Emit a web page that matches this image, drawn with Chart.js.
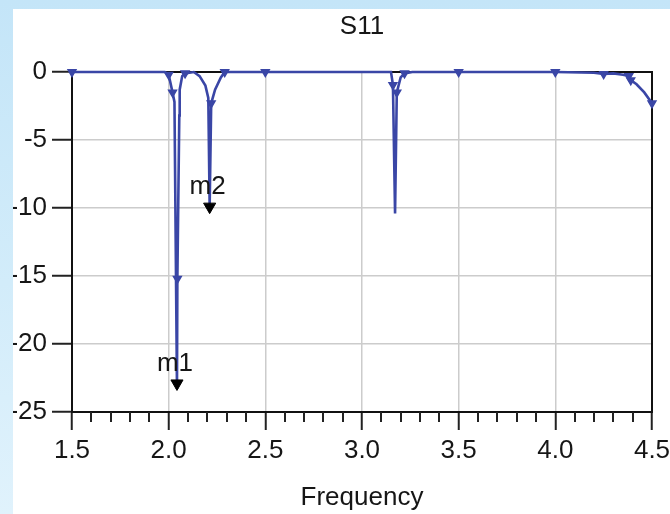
<!DOCTYPE html>
<html>
<head>
<meta charset="utf-8">
<script src="https://cdn.jsdelivr.net/npm/chart.js@4/dist/chart.umd.min.js"></script>
<style>
    html, body { margin: 0; padding: 0; }
    body {
        width: 670px; height: 514px; overflow: hidden; position: relative;
        background: linear-gradient(to bottom, #c4e5f8 0%, #d2ecfa 55%, #e0f2fc 100%);
    }
    #panel { position: absolute; left: 13px; top: 9px; width: 657px; height: 505px; background: #fff; overflow: hidden; }
    canvas { display: block; }
</style>
</head>
<body>
<div id="panel"><canvas id="chartS11" width="657" height="505"></canvas></div>
<script>
// S11 trace (GHz, dB)
const freq = [1.5, 1.98, 2.0, 2.02, 2.03, 2.043, 2.045, 2.055, 2.057, 2.07, 2.085, 2.13, 2.16, 2.19, 2.205, 2.212, 2.22, 2.24, 2.27, 2.29,
    2.5, 3.0, 3.15, 3.16, 3.171, 3.18, 3.2, 3.22, 3.26, 3.5, 4.0, 4.2, 4.25, 4.3, 4.35, 4.38, 4.39, 4.42, 4.46, 4.5];
const s11 = [0, 0, -0.2, -1.5, -2.2, -23.3, -15.2, -3.2, -1.3, -0.3, -0.1, 0, -0.3, -1.0, -1.9, -9.9, -2.3, -1.3, -0.4, 0,
    0, 0, 0, -0.95, -10.4, -1.5, -0.4, -0.1, 0, 0, 0, -0.05, -0.15, -0.1, -0.2, -0.3, -0.6, -0.9, -1.5, -2.3];

// simulation sample points shown as small symbols
const sampleFreq = [1.5, 2.0, 2.02, 2.045, 2.085, 2.22, 2.29, 2.5, 3.16, 3.18, 3.22, 3.5, 4.0, 4.25, 4.38, 4.39, 4.5];
const sampleS11 = [0, -0.2, -1.5, -15.2, -0.1, -2.3, 0, 0, -0.95, -1.5, -0.1, 0, 0, -0.15, -0.3, -0.6, -2.3];

// markers
const markerNames = ['m1', 'm2'];
const markerFreq = [2.043, 2.212];
const markerS11 = [-22.9, -9.9];

const xTicks = [1.5, 2.0, 2.5, 3.0, 3.5, 4.0, 4.5];
const yTicks = [0, -5, -10, -15, -20, -25];

const traceColor = '#3a46a6';
const textColor = '#161616';
const fontFamily = "'Liberation Sans', Arial, sans-serif";
const font = { family: fontFamily, size: 26 };

const pairs = (xs, ys) => xs.map((x, i) => ({ x: x, y: ys[i] }));

// black frame round the plot area (top and right sides are not axes)
const framePlugin = {
    id: 'frame',
    beforeDatasetsDraw(chart) {
        const a = chart.chartArea, ctx = chart.ctx;
        ctx.save();
        ctx.strokeStyle = '#111';
        ctx.lineWidth = 2;
        ctx.strokeRect(a.left, a.top, a.right - a.left, a.bottom - a.top);
        ctx.restore();
    }
};

// minor ticks every 0.1 on the frequency axis
const minorTicksPlugin = {
    id: 'minorTicks',
    afterDraw(chart) {
        const xs = chart.scales.x, ctx = chart.ctx;
        const y0 = chart.chartArea.bottom;
        ctx.save();
        ctx.strokeStyle = '#222';
        ctx.lineWidth = 2;
        for (let i = 15; i <= 45; i++) {
            if (i % 5 === 0) continue;
            const px = Math.round(xs.getPixelForValue(i / 10));
            ctx.beginPath();
            ctx.moveTo(px, y0);
            ctx.lineTo(px, y0 + 10);
            ctx.stroke();
        }
        ctx.restore();
    }
};

// "m1" / "m2" text above the marker symbols
const markerLabelPlugin = {
    id: 'markerLabels',
    afterDatasetsDraw(chart) {
        const ctx = chart.ctx;
        const xs = chart.scales.x, ys = chart.scales.y;
        ctx.save();
        ctx.font = `26px ${fontFamily}`;
        ctx.fillStyle = textColor;
        ctx.textAlign = 'center';
        ctx.textBaseline = 'middle';
        markerNames.forEach((name, i) => {
            ctx.fillText(name, xs.getPixelForValue(markerFreq[i]) - 2, ys.getPixelForValue(markerS11[i]) - 20);
        });
        ctx.restore();
    }
};

new Chart(document.getElementById('chartS11'), {
    type: 'scatter',
    data: {
        datasets: [{
            label: 'S11',
            data: pairs(freq, s11),
            showLine: true,
            borderColor: traceColor,
            borderWidth: 2.6,
            pointRadius: 0,
            tension: 0,
            clip: 8,
            order: 3
        }, {
            label: 'samples',
            data: pairs(sampleFreq, sampleS11),
            showLine: false,
            pointStyle: 'triangle',
            rotation: 180,
            pointRadius: 4.5,
            backgroundColor: traceColor,
            borderColor: traceColor,
            borderWidth: 1.5,
            clip: 8,
            order: 2
        }, {
            label: 'markers',
            data: pairs(markerFreq, markerS11),
            showLine: false,
            pointStyle: 'triangle',
            rotation: 180,
            pointRadius: 7,
            backgroundColor: '#000',
            borderColor: '#000',
            borderWidth: 1,
            order: 1
        }]
    },
    options: {
        responsive: false,
        animation: false,
        layout: { padding: { left: 0, right: 18, top: 0, bottom: 0 } },
        plugins: {
            legend: { display: false },
            tooltip: { enabled: false },
            title: {
                display: true, text: 'S11', color: textColor, fullSize: false,
                font: { family: fontFamily, size: 26, weight: 'normal' },
                padding: { top: 2, bottom: 29.8 }
            }
        },
        scales: {
            x: {
                type: 'linear', min: 1.5, max: 4.5,
                afterBuildTicks: s => { s.ticks = xTicks.map(v => ({ value: v })); },
                afterFit: s => { s.height = 102; s.paddingLeft = 0; s.paddingRight = 0; },
                ticks: { color: textColor, font: font, padding: 5, maxRotation: 0, autoSkip: false, callback: v => Number(v).toFixed(1) },
                grid: { color: '#cccccc', lineWidth: 1.5, tickColor: '#222', tickLength: 18, tickWidth: 2 },
                border: { color: '#111', width: 2 },
                title: { display: true, text: 'Frequency', color: textColor, font: font, padding: { top: 0, bottom: 1 } }
            },
            y: {
                min: -25, max: 0,
                afterBuildTicks: s => { s.ticks = yTicks.map(v => ({ value: v })); },
                afterFit: s => { s.width = 59; s.paddingTop = 0; s.paddingBottom = 0; },
                ticks: { color: textColor, font: font, padding: 5 },
                grid: { color: '#cccccc', lineWidth: 1.5, tickColor: '#222', tickLength: 20, tickWidth: 2 },
                border: { color: '#111', width: 2 }
            }
        }
    },
    plugins: [framePlugin, minorTicksPlugin, markerLabelPlugin]
});
</script>
</body>
</html>
